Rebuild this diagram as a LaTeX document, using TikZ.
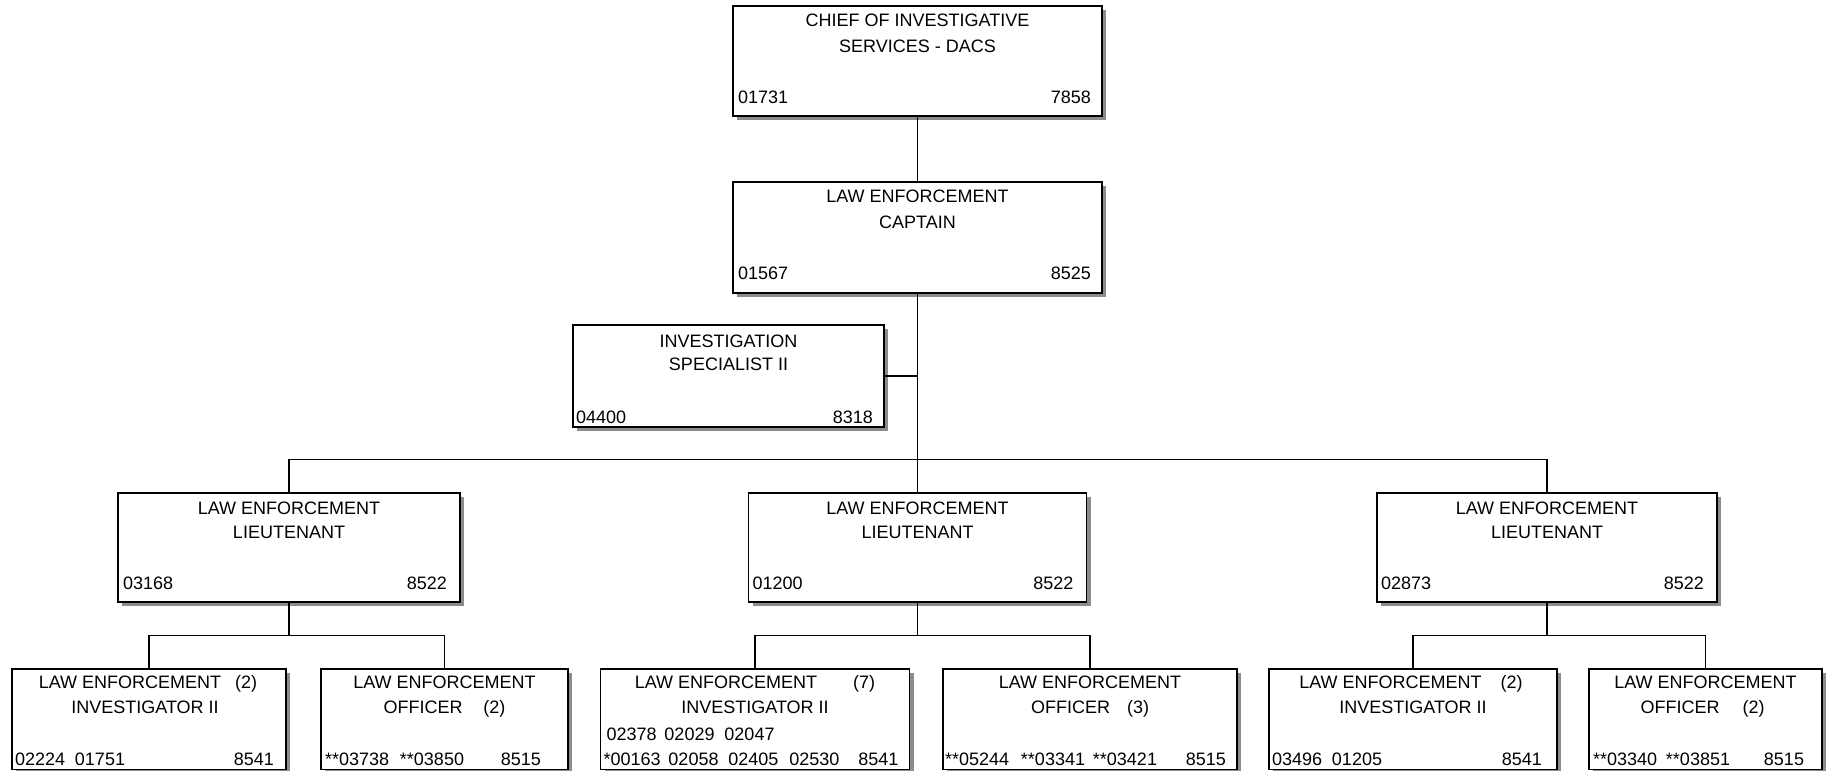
\documentclass[tikz,border=0pt]{standalone}
\usepackage{fontspec}
\setmainfont{Liberation Sans}
\usetikzlibrary{shadows}
\newcommand{\fld}[2]{\makebox[#1pt][l]{#2}}

\begin{document}
\begin{tikzpicture}[x=1pt, y=-1pt, line width=1.4pt,
    post/.style={draw, fill=white, inner sep=0pt,
      drop shadow={shadow xshift=4pt, shadow yshift=-4pt, fill=black!45, opacity=1}},
    txt/.style={inner sep=0pt, font=\fontsize{18}{22}\selectfont},
    ttl/.style={txt, anchor=base},
    lnum/.style={txt, anchor=base west},
    rnum/.style={txt, anchor=base east}]
  \useasboundingbox (0,0) rectangle (1829,771);

  % boxes
  \node[post, minimum width=369pt, minimum height=110pt] (chief) at (917.5,61) {};
  \node[post, minimum width=369pt, minimum height=111pt] (capt) at (917.5,237.5) {};
  \node[post, minimum width=311pt, minimum height=102pt] (spec) at (728.5,376) {};
  \node[post, minimum width=342pt, minimum height=109pt] (lt1) at (289,547.5) {};
  \node[post, minimum width=338pt, minimum height=109pt] (lt2) at (917.5,547.5) {};
  \node[post, minimum width=340pt, minimum height=109pt] (lt3) at (1547,547.5) {};
  \node[post, minimum width=274pt, minimum height=100.5pt] (inv1) at (149,719.25) {};
  \node[post, minimum width=247pt, minimum height=100.5pt] (off1) at (444.5,719.25) {};
  \node[post, minimum width=309pt, minimum height=100.5pt] (inv2) at (755,719.25) {};
  \node[post, minimum width=294pt, minimum height=100.5pt] (off2) at (1090,719.25) {};
  \node[post, minimum width=288pt, minimum height=100.5pt] (inv3) at (1413,719.25) {};
  \node[post, minimum width=233pt, minimum height=100.5pt] (off3) at (1705.5,719.25) {};

  % lines
  \draw (chief.south) -- (capt.north);
  \draw (capt.south) -- (lt2.north);
  \draw (spec.east) -- (spec.east -| capt.south);
  \path (capt.south) ++(0,166) coordinate (bus);
  \draw (lt1.north) |- (bus) -| (lt3.north);
  \draw (lt1.south) -- ++(0,33) coordinate (j1);
  \draw (inv1.north) |- (j1) -| (off1.north);
  \draw (lt2.south) -- ++(0,33) coordinate (j2);
  \draw (inv2.north) |- (j2) -| (off2.north);
  \draw (lt3.south) -- ++(0,33) coordinate (j3);
  \draw (inv3.north) |- (j3) -| (off3.north);

  % chief
  \node[ttl] (chief-a) at ([yshift=-21.5pt]chief.north) {CHIEF OF INVESTIGATIVE};
  \node[ttl] (chief-b) at ([yshift=-47.5pt]chief.north) {SERVICES - DACS};
  \node[lnum] (chief-l) at ([xshift=5pt,yshift=13.5pt]chief.south west) {01731};
  \node[rnum] (chief-r) at ([xshift=-11pt,yshift=13.5pt]chief.south east) {7858};
  % captain
  \node[ttl] (capt-a) at ([yshift=-21.5pt]capt.north) {LAW ENFORCEMENT};
  \node[ttl] (capt-b) at ([yshift=-47.5pt]capt.north) {CAPTAIN};
  \node[lnum] (capt-l) at ([xshift=5pt,yshift=14.5pt]capt.south west) {01567};
  \node[rnum] (capt-r) at ([xshift=-11pt,yshift=14.5pt]capt.south east) {8525};
  % specialist
  \node[ttl] (spec-a) at ([yshift=-23.5pt]spec.north) {INVESTIGATION};
  \node[ttl] (spec-b) at ([yshift=-46.5pt]spec.north) {SPECIALIST II};
  \node[lnum] (spec-l) at ([xshift=3pt,yshift=4.5pt]spec.south west) {04400};
  \node[rnum] (spec-r) at ([xshift=-11pt,yshift=4.5pt]spec.south east) {8318};
  % lieutenants
  \node[ttl] (lt1-a) at ([yshift=-22.5pt]lt1.north) {LAW ENFORCEMENT};
  \node[ttl] (lt1-b) at ([yshift=-46.5pt]lt1.north) {LIEUTENANT};
  \node[lnum] (lt1-l) at ([xshift=5pt,yshift=13.5pt]lt1.south west) {03168};
  \node[rnum] (lt1-r) at ([xshift=-13pt,yshift=13.5pt]lt1.south east) {8522};
  \node[ttl] (lt2-a) at ([yshift=-22.5pt]lt2.north) {LAW ENFORCEMENT};
  \node[ttl] (lt2-b) at ([yshift=-46.5pt]lt2.north) {LIEUTENANT};
  \node[lnum] (lt2-l) at ([xshift=4pt,yshift=13.5pt]lt2.south west) {01200};
  \node[rnum] (lt2-r) at ([xshift=-13pt,yshift=13.5pt]lt2.south east) {8522};
  \node[ttl] (lt3-a) at ([yshift=-22.5pt]lt3.north) {LAW ENFORCEMENT};
  \node[ttl] (lt3-b) at ([yshift=-46.5pt]lt3.north) {LIEUTENANT};
  \node[lnum] (lt3-l) at ([xshift=4pt,yshift=13.5pt]lt3.south west) {02873};
  \node[rnum] (lt3-r) at ([xshift=-13pt,yshift=13.5pt]lt3.south east) {8522};

  % bottom row
  \node[ttl] (inv1-a) at ([xshift=-1pt,yshift=-20.5pt]inv1.north) {LAW ENFORCEMENT\hspace{14pt}(2)};
  \node[ttl] (inv1-b) at ([xshift=-4pt,yshift=-45.5pt]inv1.north) {INVESTIGATOR II};
  \node[lnum] (inv1-l) at ([xshift=3pt,yshift=4.5pt]inv1.south west) {\fld{60}{02224}01751};
  \node[rnum] (inv1-r) at ([xshift=-12pt,yshift=4.5pt]inv1.south east) {8541};

  \node[ttl] (off1-a) at ([yshift=-20.5pt]off1.north) {LAW ENFORCEMENT};
  \node[ttl] (off1-b) at ([yshift=-45.5pt]off1.north) {OFFICER\hspace{21pt}(2)};
  \node[lnum] (off1-l) at ([xshift=4pt,yshift=4.5pt]off1.south west) {\fld{75}{**03738}**03850};
  \node[rnum] (off1-r) at ([xshift=-27pt,yshift=4.5pt]off1.south east) {8515};

  \node[ttl] (inv2-a) at ([yshift=-20.5pt]inv2.north) {LAW ENFORCEMENT\hspace{36pt}(7)};
  \node[ttl] (inv2-b) at ([yshift=-45.5pt]inv2.north) {INVESTIGATOR II};
  \node[lnum] (inv2-c) at ([xshift=6pt,yshift=29.5pt]inv2.south west) {\fld{58}{02378}\fld{60}{02029}02047};
  \node[lnum] (inv2-l) at ([xshift=3pt,yshift=4.5pt]inv2.south west) {\fld{65}{*00163}\fld{60}{02058}\fld{61}{02405}02530};
  \node[rnum] (inv2-r) at ([xshift=-11pt,yshift=4.5pt]inv2.south east) {8541};

  \node[ttl] (off2-a) at ([yshift=-20.5pt]off2.north) {LAW ENFORCEMENT};
  \node[ttl] (off2-b) at ([yshift=-45.5pt]off2.north) {OFFICER\hspace{17pt}(3)};
  \node[lnum] (off2-l) at ([xshift=2pt,yshift=4.5pt]off2.south west) {\fld{76}{**05244}\fld{72}{**03341}**03421};
  \node[rnum] (off2-r) at ([xshift=-11pt,yshift=4.5pt]off2.south east) {8515};

  \node[ttl] (inv3-a) at ([xshift=-2pt,yshift=-20.5pt]inv3.north) {LAW ENFORCEMENT\hspace{19pt}(2)};
  \node[ttl] (inv3-b) at ([yshift=-45.5pt]inv3.north) {INVESTIGATOR II};
  \node[lnum] (inv3-l) at ([xshift=3pt,yshift=4.5pt]inv3.south west) {\fld{60}{03496}01205};
  \node[rnum] (inv3-r) at ([xshift=-15pt,yshift=4.5pt]inv3.south east) {8541};

  \node[ttl] (off3-a) at ([yshift=-20.5pt]off3.north) {LAW ENFORCEMENT};
  \node[ttl] (off3-b) at ([xshift=-3pt,yshift=-45.5pt]off3.north) {OFFICER\hspace{23pt}(2)};
  \node[lnum] (off3-l) at ([xshift=4pt,yshift=4.5pt]off3.south west) {\fld{73}{**03340}**03851};
  \node[rnum] (off3-r) at ([xshift=-18pt,yshift=4.5pt]off3.south east) {8515};
\end{tikzpicture}
\end{document}
